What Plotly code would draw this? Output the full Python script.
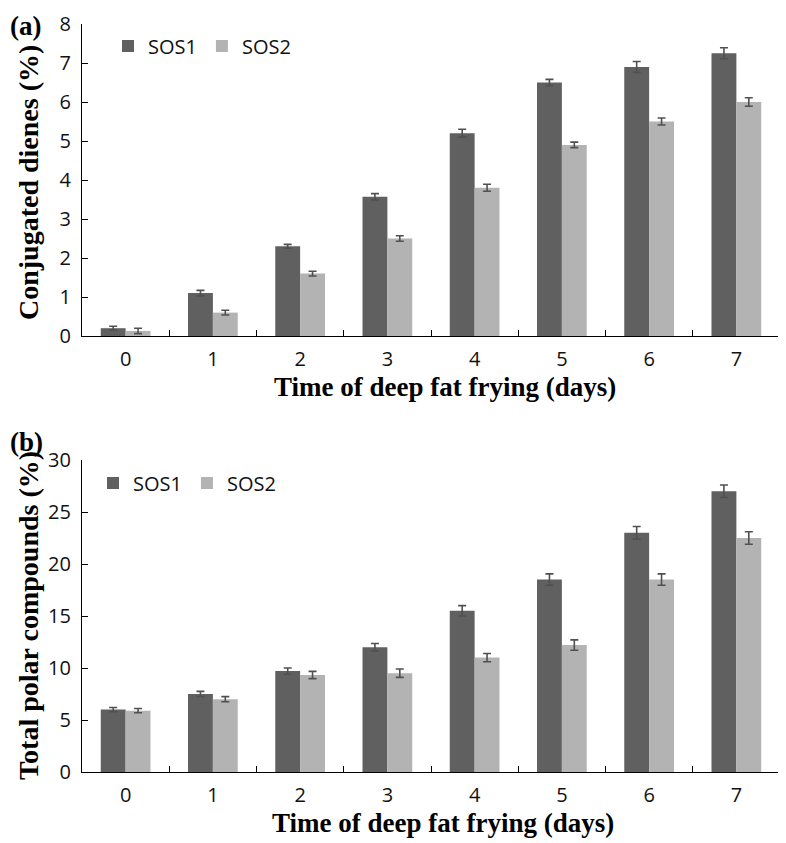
import plotly.graph_objects as go

days = ["0", "1", "2", "3", "4", "5", "6", "7"]

cd_sos1 = [0.20, 1.10, 2.30, 3.57, 5.20, 6.50, 6.90, 7.25]
cd_sos1_err = [0.05, 0.07, 0.05, 0.08, 0.10, 0.08, 0.14, 0.14]
cd_sos2 = [0.13, 0.60, 1.60, 2.50, 3.80, 4.90, 5.50, 6.00]
cd_sos2_err = [0.07, 0.06, 0.06, 0.07, 0.09, 0.07, 0.09, 0.11]

tpc_sos1 = [6.0, 7.5, 9.7, 12.0, 15.5, 18.5, 23.0, 27.0]
tpc_sos1_err = [0.2, 0.25, 0.3, 0.35, 0.5, 0.55, 0.6, 0.6]
tpc_sos2 = [5.9, 7.0, 9.33, 9.5, 11.0, 12.2, 18.5, 22.5]
tpc_sos2_err = [0.2, 0.25, 0.35, 0.4, 0.4, 0.5, 0.55, 0.6]

C1 = "#606060"
C2 = "#b3b3b3"
ERR = "#505050"

W, H = 786, 843
OFF = 8


def px(x):
    return (x - OFF) / W


def py(y):
    return 1 - (y - OFF) / H


fig = go.Figure()


def add_pair(x, y1, e1, y2, e2, xa, ya, legend):
    fig.add_trace(go.Bar(x=x, y=y1, name="SOS1", marker_color=C1, marker_line_width=0,
                         error_y=dict(type="data", array=e1, color=ERR, thickness=1.6, width=4),
                         xaxis=xa, yaxis=ya, legend=legend, offsetgroup="a"))
    fig.add_trace(go.Bar(x=x, y=y2, name="SOS2", marker_color=C2, marker_line_width=0,
                         error_y=dict(type="data", array=e2, color=ERR, thickness=1.6, width=4),
                         xaxis=xa, yaxis=ya, legend=legend, offsetgroup="b"))


add_pair(days, cd_sos1, cd_sos1_err, cd_sos2, cd_sos2_err, "x", "y", "legend")
add_pair(days, tpc_sos1, tpc_sos1_err, tpc_sos2, tpc_sos2_err, "x2", "y2", "legend2")

xd = [px(82), px(780)]
tick_font = dict(family="Open Sans, sans-serif", size=20, color="#111")
xcommon = dict(domain=xd, type="category", showline=True, linecolor="black", linewidth=1.3,
               ticks="inside", ticklen=6, tickcolor="black", tickson="boundaries",
               tickfont=tick_font, showgrid=False, zeroline=False, automargin=False,
               ticklabelstandoff=5)
ycommon = dict(showline=True, linecolor="black", linewidth=1.3, ticks="inside", ticklen=6,
               tickcolor="black", tickfont=tick_font, showgrid=False, zeroline=False,
               automargin=False, ticklabelstandoff=6)

leg_font = dict(family="Open Sans, sans-serif", size=20, color="#111")
fig.update_layout(
    width=W, height=H, margin=dict(l=0, r=0, t=0, b=0, autoexpand=False),
    paper_bgcolor="white", plot_bgcolor="white",
    barmode="group", bargap=0.43, bargroupgap=0,
    xaxis=dict(**xcommon, anchor="y"),
    yaxis=dict(**ycommon, domain=[py(336), py(24)], range=[0, 8], dtick=1, anchor="x"),
    xaxis2=dict(**xcommon, anchor="y2"),
    yaxis2=dict(**ycommon, domain=[py(772), py(460)], range=[0, 30], dtick=5, anchor="x2"),
    legend=dict(orientation="h", x=px(108), y=py(46), xanchor="left", yanchor="middle",
                font=leg_font, bgcolor="rgba(0,0,0,0)", itemwidth=30, tracegroupgap=0),
    legend2=dict(orientation="h", x=px(93), y=py(483), xanchor="left", yanchor="middle",
                 font=leg_font, bgcolor="rgba(0,0,0,0)", itemwidth=30, tracegroupgap=0),
    showlegend=True,
)

title_font = dict(family="Liberation Serif, Times New Roman, serif", size=28, color="black")
lab_font = dict(family="Liberation Serif, Times New Roman, serif", size=27, color="black")
xt_font = dict(family="Liberation Serif, Times New Roman, serif", size=27, color="black")
ann = [
    dict(text="<b>(a)</b>", x=0, y=py(26), font=lab_font, xanchor="left"),
    dict(text="<b>(b)</b>", x=0, y=py(442), font=lab_font, xanchor="left"),
    dict(text="<b>Conjugated dienes (%)</b>", x=px(28), y=py(183), textangle=-90,
         font=title_font, xanchor="center"),
    dict(text="<b>Total polar compounds (%)</b>", x=px(28), y=py(616), textangle=-90,
         font=title_font, xanchor="center"),
    dict(text="<b>Time of deep fat frying (days)</b>", x=px(445), y=py(387),
         font=xt_font, xanchor="center"),
    dict(text="<b>Time of deep fat frying (days)</b>", x=px(443), y=py(823),
         font=xt_font, xanchor="center"),
]
for a in ann:
    fig.add_annotation(xref="paper", yref="paper", showarrow=False, yanchor="middle", **a)

fig.write_html("out.html")
